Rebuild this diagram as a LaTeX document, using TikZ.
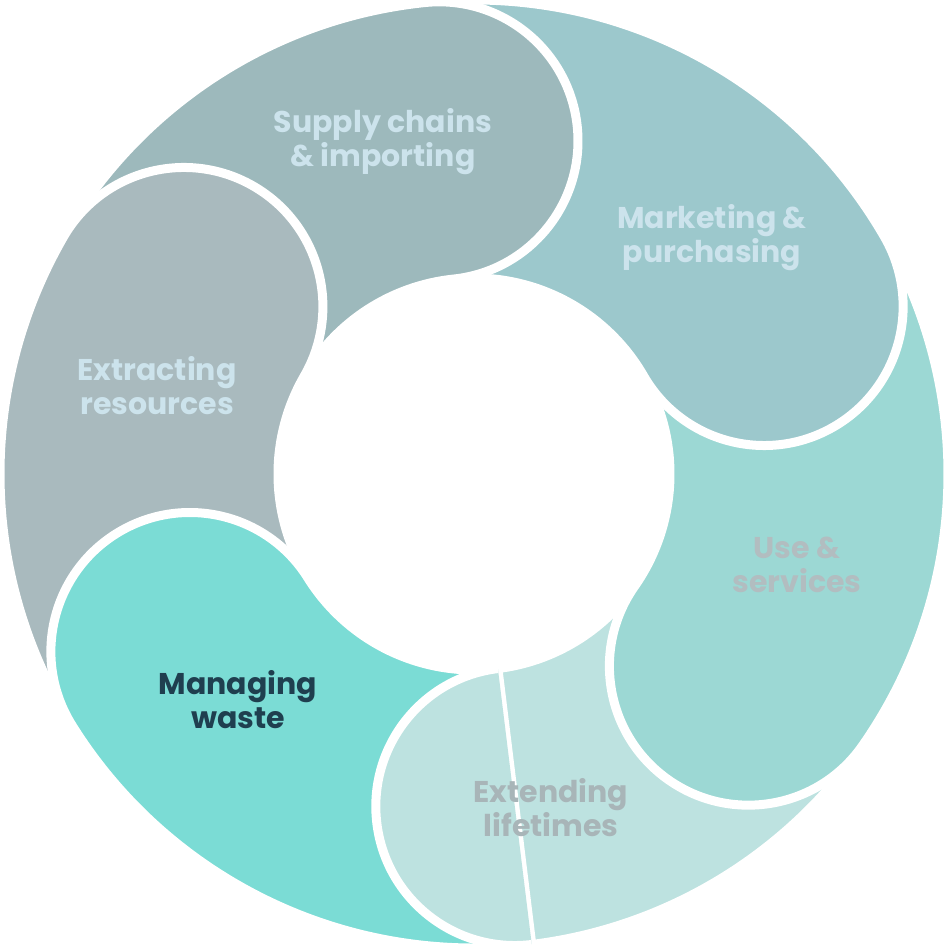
\documentclass[tikz,border=0pt]{standalone}
\usepackage{fontspec}
\setmainfont{Poppins}
\begin{document}
\begin{tikzpicture}[x=1pt,y=1pt,
  seg/.style={draw=white,line width=9pt,line join=round},
  lab/.style={font=\fontsize{30}{40}\selectfont\bfseries,align=center}]
\useasboundingbox (-474,-475) rectangle (475,474);
\def\Ro{474}\def\Ri{196}\def\W{139}
\newcommand{\segpath}[2]{(#2:\Ro) arc[start angle=#2,end angle=#1,radius=\Ro]
  arc[start angle=#1,end angle=#1-180,radius=\W]
  arc[start angle=#1,end angle=#2,radius=\Ri] -- cycle}
\definecolor{cSup}{HTML}{9DB9BC}
\definecolor{cMar}{HTML}{9CC8CC}
\definecolor{cUse}{HTML}{9CD8D4}
\definecolor{cExt}{HTML}{BDE2E0}
\definecolor{cMan}{HTML}{7BDCD5}
\definecolor{cExr}{HTML}{A9BABE}
\path[seg,fill=cExt] \segpath{-83}{-35};
\path[seg,fill=cUse] \segpath{-35}{30};
\path[seg,fill=cMar] \segpath{30}{96};
\path[seg,fill=cSup] \segpath{96}{150};
\path[seg,fill=cExr] \segpath{150}{212};
\path[seg,fill=cMan] \segpath{212}{277};
\begin{scope}
\clip (0,0) -- (277:700) arc[start angle=277,end angle=225,radius=700] -- cycle;
\path[seg,fill=cExt] \segpath{-83}{-35};
\end{scope}
\node[lab,text=cyan!8!white!85!teal] (sup) at (-91,332) {Supply chains\\[-6pt]\& importing};
\node[lab,text=cyan!8!white!85!teal] (mar) at (238,236) {Marketing \&\\[-6pt]purchasing};
\node[lab,text=cyan!8!white!85!teal] (exr) at (-317,88) {Extracting\\[-6pt]resources};
\node[lab,text={rgb,255:red,178;green,189;blue,192}] (use) at (323,-91) {Use \&\\[-6pt]services};
\node[lab,text={rgb,255:red,168;green,181;blue,184}] (ext) at (77,-334) {Extending\\[-6pt]lifetimes};
\node[lab,text={rgb,255:red,31;green,63;blue,79}] (man) at (-236,-226) {Managing\\[-6pt]waste};
\end{tikzpicture}
\end{document}
